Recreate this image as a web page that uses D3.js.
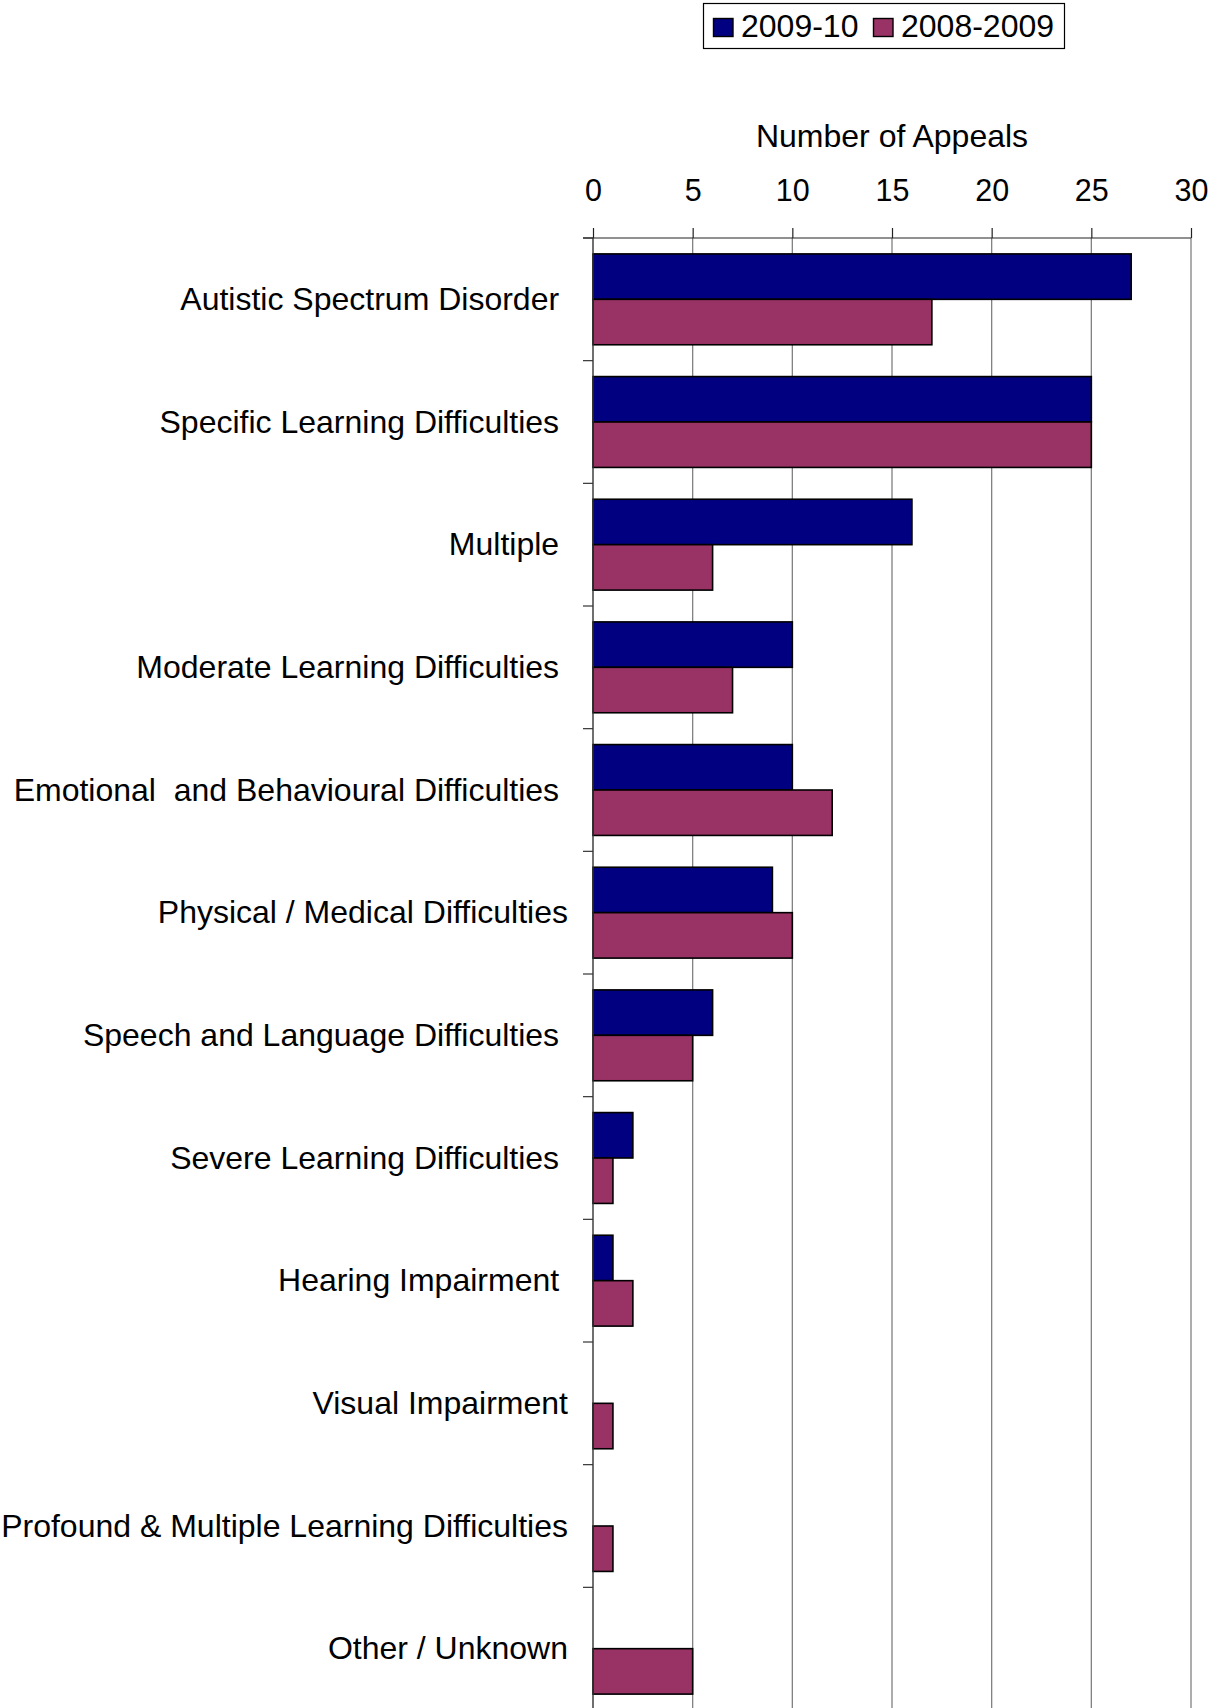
<!DOCTYPE html>
<html>
<head>
<meta charset="utf-8">
<script src="https://cdn.jsdelivr.net/npm/d3@7"></script>
<style>
  html, body { margin: 0; padding: 0; background: #fff; }
  svg { display: block; }
  text { font-family: "Liberation Sans", Arial, sans-serif; fill: #000; }
</style>
</head>
<body>
<svg id="chart" width="1208" height="1708"></svg>
<script>
// ---- data ----
const categories = [
  "Autistic Spectrum Disorder ",
  "Specific Learning Difficulties ",
  "Multiple ",
  "Moderate Learning Difficulties ",
  "Emotional  and Behavioural Difficulties ",
  "Physical / Medical Difficulties",
  "Speech and Language Difficulties ",
  "Severe Learning Difficulties ",
  "Hearing Impairment ",
  "Visual Impairment",
  "Profound & Multiple Learning Difficulties",
  "Other / Unknown"
];
const seriesNames = ["2009-10", "2008-2009"];
const values2009_10 = [27, 25, 16, 10, 10, 9, 6, 2, 1, 0, 0, 0];
const values2008_09 = [17, 25, 6, 7, 12, 10, 5, 1, 2, 1, 1, 5];
const seriesColors = ["#000080", "#993366"];
const xTicks = [0, 5, 10, 15, 20, 25, 30];
const axisTitle = "Number of Appeals";

// ---- layout ----
const svg = d3.select("#chart");
const plotLeft = 593, plotRight = 1191, plotTop = 238, plotBottom = 1710;
const FONT = '"Liberation Sans", Arial, sans-serif';

const x = d3.scaleLinear().domain([0, 30]).range([plotLeft, plotRight]);
const y0 = d3.scaleBand().domain(categories).range([plotTop, plotBottom]).padding(0);
const y1 = d3.scaleBand().domain(seriesNames).range([0, y0.bandwidth()]).paddingInner(0).paddingOuter(0.35);

const seriesValues = [values2009_10, values2008_09];
const rows = [];
categories.forEach((c, i) => {
  seriesNames.forEach((s, j) => {
    rows.push({ cat: c, series: s, value: seriesValues[j][i], color: seriesColors[j] });
  });
});

// gridlines
svg.append("g").selectAll("line")
  .data(xTicks.filter(t => t > 0))
  .join("line")
  .attr("x1", d => x(d)).attr("x2", d => x(d))
  .attr("y1", plotTop).attr("y2", plotBottom)
  .attr("stroke", "#808080").attr("stroke-width", 1.3);

// bars
svg.append("g").selectAll("rect")
  .data(rows.filter(r => r.value > 0))
  .join("rect")
  .attr("x", x(0))
  .attr("y", d => y0(d.cat) + y1(d.series))
  .attr("width", d => x(d.value) - x(0))
  .attr("height", y1.bandwidth())
  .attr("fill", d => d.color)
  .attr("stroke", "#000").attr("stroke-width", 1.6);

// category axis line
svg.append("line")
  .attr("x1", x(0)).attr("x2", x(0)).attr("y1", plotTop).attr("y2", plotBottom)
  .attr("stroke", "#333").attr("stroke-width", 1.4);

// category boundary ticks
const bounds = categories.map(c => y0(c)).concat([y0(categories[categories.length - 1]) + y0.bandwidth()]);
svg.append("g").selectAll("line")
  .data(bounds)
  .join("line")
  .attr("x1", x(0) - 10).attr("x2", x(0))
  .attr("y1", d => d).attr("y2", d => d)
  .attr("stroke", "#333").attr("stroke-width", 1.2);

// category labels via axis
const yAxis = svg.append("g")
  .attr("transform", `translate(${x(0)},0)`)
  .call(d3.axisLeft(y0).tickSize(0).tickPadding(25));
yAxis.select(".domain").remove();
yAxis.selectAll("text")
  .style("font-family", FONT)
  .style("font-size", "32px")
  .style("white-space", "pre")
  .attr("fill", "#000")
  .attr("dy", "0.33em");

// value axis on top
const xAxis = svg.append("g")
  .attr("transform", `translate(0,${plotTop})`)
  .call(d3.axisTop(x).tickValues(xTicks).tickSize(10).tickPadding(27).tickFormat(d3.format("d")));
xAxis.select(".domain").remove();
xAxis.selectAll(".tick line").attr("stroke", "#222").attr("stroke-width", 1.2);
xAxis.selectAll("text")
  .style("font-family", FONT)
  .style("font-size", "30.5px")
  .attr("fill", "#000");
svg.append("line")
  .attr("x1", x(0) - 10).attr("x2", x(30)).attr("y1", plotTop).attr("y2", plotTop)
  .attr("stroke", "#222").attr("stroke-width", 1.2);

// axis title
svg.append("text")
  .attr("x", (x(0) + x(30)) / 2).attr("y", 146.5)
  .attr("text-anchor", "middle")
  .style("font-family", FONT)
  .style("font-size", "32px")
  .text(axisTitle);

// legend
const legend = svg.append("g");
legend.append("rect")
  .attr("x", 703.5).attr("y", 3.5).attr("width", 361).attr("height", 45)
  .attr("fill", "#fff").attr("stroke", "#000").attr("stroke-width", 1.2);
const legendX = [713.5, 873.5];
const items = legend.selectAll("g.item")
  .data(seriesNames.map((s, i) => ({ name: s, color: seriesColors[i], lx: legendX[i] })))
  .join("g").attr("class", "item");
items.append("rect")
  .attr("x", d => d.lx).attr("y", 18.5).attr("width", 19.5).attr("height", 18)
  .attr("fill", d => d.color).attr("stroke", "#000").attr("stroke-width", 1.4);
items.append("text")
  .attr("x", d => d.lx + 27.5).attr("y", 36.5)
  .style("font-family", FONT)
  .style("font-size", "32px")
  .text(d => d.name);
</script>
</body>
</html>
